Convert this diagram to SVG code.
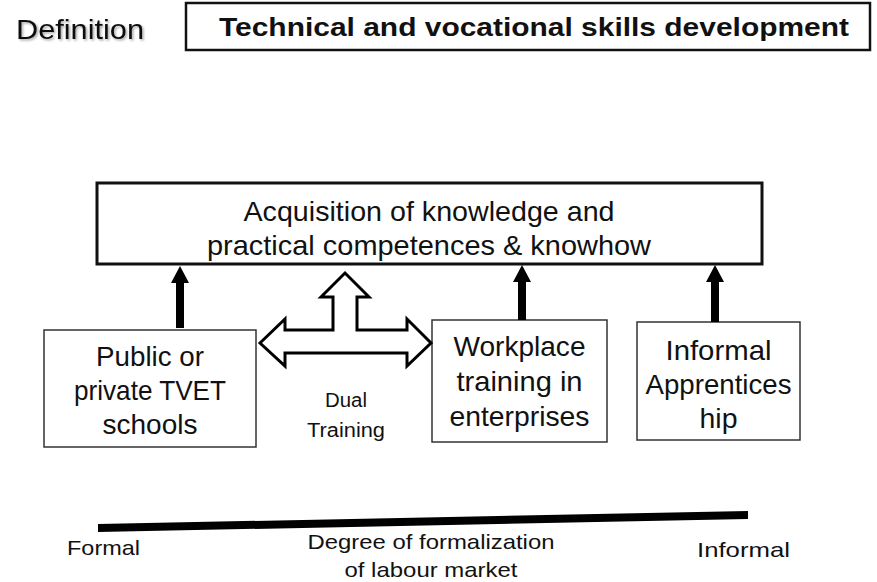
<svg xmlns="http://www.w3.org/2000/svg" width="877" height="582" viewBox="0 0 877 582">
  <defs>
    <filter id="shadow" x="-10%" y="-20%" width="130%" height="160%">
      <feDropShadow dx="1.5" dy="1.5" stdDeviation="1" flood-color="#000" flood-opacity="0.35"/>
    </filter>
  </defs>
  <style>
    text { font-family: "Liberation Sans", Arial, sans-serif; fill: #111; }
    .box { fill: #fff; stroke: #333; stroke-width: 1.5; }
    .main { fill: #fff; stroke: #111; stroke-width: 3; }
    .lbl { font-size: 28px; text-anchor: middle; }
    .small { font-size: 20px; text-anchor: middle; }
    .axis { font-size: 21px; }
    .arrow { fill: #000; }
  </style>
  <rect width="877" height="582" fill="#fff"/>

  <g id="definition">
    <text x="16" y="39" font-size="28" textLength="128" lengthAdjust="spacingAndGlyphs" filter="url(#shadow)">Definition</text>
  </g>
  <g id="title">
    <rect x="186" y="3" width="684" height="47" fill="#fff" stroke="#111" stroke-width="2.5"/>
    <text x="219" y="36" font-size="25" font-weight="bold" textLength="630" lengthAdjust="spacingAndGlyphs">Technical and vocational skills development</text>
  </g>

  <g id="acquisition">
    <rect class="main" x="97" y="183" width="665" height="81"/>
    <text class="lbl" x="429" y="221" textLength="371" lengthAdjust="spacingAndGlyphs">Acquisition of knowledge and</text>
    <text class="lbl" x="429" y="255" textLength="444" lengthAdjust="spacingAndGlyphs">practical competences &amp; knowhow</text>
  </g>

  <g id="tvet-schools">
    <rect class="box" x="44" y="330" width="212" height="117"/>
    <text class="lbl" x="150" y="366" textLength="108" lengthAdjust="spacingAndGlyphs">Public or</text>
    <text class="lbl" x="150" y="400" textLength="152" lengthAdjust="spacingAndGlyphs">private TVET</text>
    <text class="lbl" x="150" y="434" textLength="95" lengthAdjust="spacingAndGlyphs">schools</text>
  </g>

  <g id="workplace-training">
    <rect class="box" x="432" y="320" width="175" height="122"/>
    <text class="lbl" x="519.5" y="356" textLength="132" lengthAdjust="spacingAndGlyphs">Workplace</text>
    <text class="lbl" x="519.5" y="391" textLength="126" lengthAdjust="spacingAndGlyphs">training in</text>
    <text class="lbl" x="519.5" y="426" textLength="140" lengthAdjust="spacingAndGlyphs">enterprises</text>
  </g>

  <g id="informal-apprenticeship">
    <rect class="box" x="637" y="322" width="163" height="118"/>
    <text class="lbl" x="718.5" y="360" textLength="106" lengthAdjust="spacingAndGlyphs">Informal</text>
    <text class="lbl" x="718.5" y="394" textLength="146" lengthAdjust="spacingAndGlyphs">Apprentices</text>
    <text class="lbl" x="718.5" y="428" textLength="38" lengthAdjust="spacingAndGlyphs">hip</text>
  </g>

  <g id="dual-training">
    <text class="small" x="346" y="407" textLength="42" lengthAdjust="spacingAndGlyphs">Dual</text>
    <text class="small" x="346" y="437" textLength="78" lengthAdjust="spacingAndGlyphs">Training</text>
  </g>

  <g id="connectors">
    <polygon fill="#fff" stroke="#000" stroke-width="3" stroke-linejoin="miter"
      points="260,343 285,319 285,330 333,330 333,297 321,297 345,273 369,297 357,297 357,330 407,330 407,319 431,343 407,366 407,353 285,353 285,366"/>
    <polygon class="arrow" points="176,328 176,283 171,283 180,266 189,283 184,283 184,328"/>
    <polygon class="arrow" points="518,320 518,282 513,282 522,265 531,282 526,282 526,320"/>
    <polygon class="arrow" points="711,322 711,282 706,282 715,265 724,282 719,282 719,322"/>
  </g>

  <g id="formalization-axis">
    <polygon fill="#000" points="98,524 748,511 748,519 98,532"/>
    <text class="axis" x="67" y="555" textLength="73" lengthAdjust="spacingAndGlyphs">Formal</text>
    <text class="axis" x="431" y="549" text-anchor="middle" textLength="247" lengthAdjust="spacingAndGlyphs">Degree of formalization</text>
    <text class="axis" x="431" y="577" text-anchor="middle" textLength="173" lengthAdjust="spacingAndGlyphs">of labour market</text>
    <text class="axis" x="697" y="557" textLength="93" lengthAdjust="spacingAndGlyphs">Informal</text>
  </g>
</svg>
